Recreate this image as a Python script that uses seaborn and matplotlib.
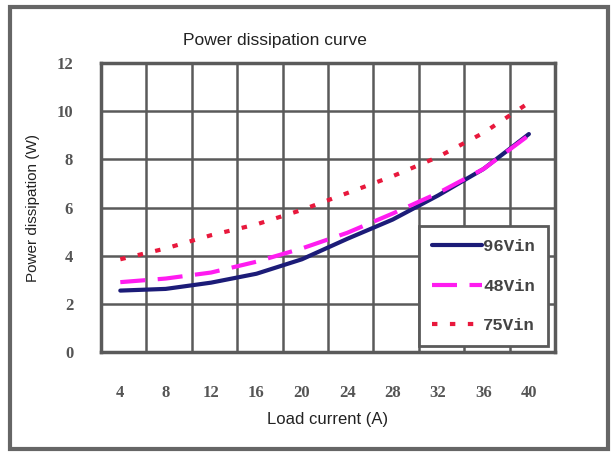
import matplotlib
matplotlib.use("Agg")
import matplotlib.pyplot as plt
import numpy as np
import pandas as pd
import seaborn as sns
from matplotlib.patches import Rectangle

# values
load_current = [4, 8, 12, 16, 20, 24, 28, 32, 36, 40]
p_96vin = [2.55, 2.62, 2.88, 3.25, 3.85, 4.7, 5.5, 6.5, 7.6, 9.05]
p_48vin = [2.9, 3.05, 3.3, 3.75, 4.3, 4.95, 5.75, 6.6, 7.6, 9.0]
p_75vin = [3.85, 4.3, 4.85, 5.3, 5.9, 6.6, 7.3, 8.1, 9.1, 10.35]
series_names = ["96Vin", "48Vin", "75Vin"]
y_ticks = [0, 2, 4, 6, 8, 10, 12]

df = pd.DataFrame(
    {
        "Load current (A)": load_current * 3,
        "Power dissipation (W)": p_96vin + p_48vin + p_75vin,
        "series": [s for s in series_names for _ in load_current],
    }
)

sns.set_theme(style="white")
plt.rcParams.update({"font.family": ["Liberation Sans", "DejaVu Sans"]})

fig = plt.figure(figsize=(6.14, 4.55), dpi=100)
fig.patch.set_facecolor("white")
ax = fig.add_axes([101 / 614, 1 - 352 / 455, 454 / 614, 289 / 455])

palette = {"96Vin": "#1c1c78", "48Vin": "#ff1cf0", "75Vin": "#e8183c"}
dashes = {"96Vin": "", "48Vin": (6, 3), "75Vin": (1.3, 3)}
sns.lineplot(
    data=df,
    x="Load current (A)",
    y="Power dissipation (W)",
    hue="series",
    style="series",
    palette=palette,
    dashes=dashes,
    linewidth=3,
    ax=ax,
    zorder=3,
)

ax.set_xlim(2.3, 42.3)
ax.set_ylim(0, 12)
ax.set_xticks(load_current)
ax.set_xticks(np.arange(2.3, 42.4, 4), minor=True)
ax.set_yticks(y_ticks)
ax.grid(False)
ax.grid(which="minor", axis="x", color="#5a5a5a", linewidth=1.8)
ax.grid(which="major", axis="y", color="#5a5a5a", linewidth=1.8)
ax.set_axisbelow(True)
ax.tick_params(which="both", length=0)
ax.tick_params(axis="x", pad=24, labelsize=12, labelcolor="#555555")
ax.tick_params(axis="y", pad=20, labelsize=12, labelcolor="#555555")
for lab in ax.get_xticklabels() + ax.get_yticklabels():
    lab.set_family("Liberation Serif")
    lab.set_weight("bold")
for sp in ax.spines.values():
    sp.set_color("#5a5a5a")
    sp.set_linewidth(2.5)

ax.set_xlabel("Load current (A)", fontsize=12, color="#222222", labelpad=8)
ax.set_ylabel("Power dissipation (W)", fontsize=11, color="#222222", labelpad=12)

leg = ax.legend(
    loc="lower right",
    bbox_to_anchor=(0.985, 0.02),
    frameon=True,
    fancybox=False,
    handlelength=2.9,
    handletextpad=0.05,
    labelspacing=1.4,
    borderpad=0.75,
    borderaxespad=0,
    prop={"family": "Liberation Mono", "weight": "bold", "size": 12.5},
)
leg.get_frame().set_edgecolor("#5a5a5a")
leg.get_frame().set_linewidth(2)
leg.get_frame().set_alpha(1)
for t in leg.get_texts():
    t.set_color("#444444")

fig.text(275 / 614, 1 - 40 / 455, "Power dissipation curve", ha="center", va="center",
         fontsize=12.5, color="#222222")

fig.patches.append(
    Rectangle((10 / 614, 6 / 455), 598 / 614, 442 / 455, transform=fig.transFigure,
              fill=False, edgecolor="#666666", linewidth=3)
)

fig.savefig("out.png", dpi=100, facecolor="white")
